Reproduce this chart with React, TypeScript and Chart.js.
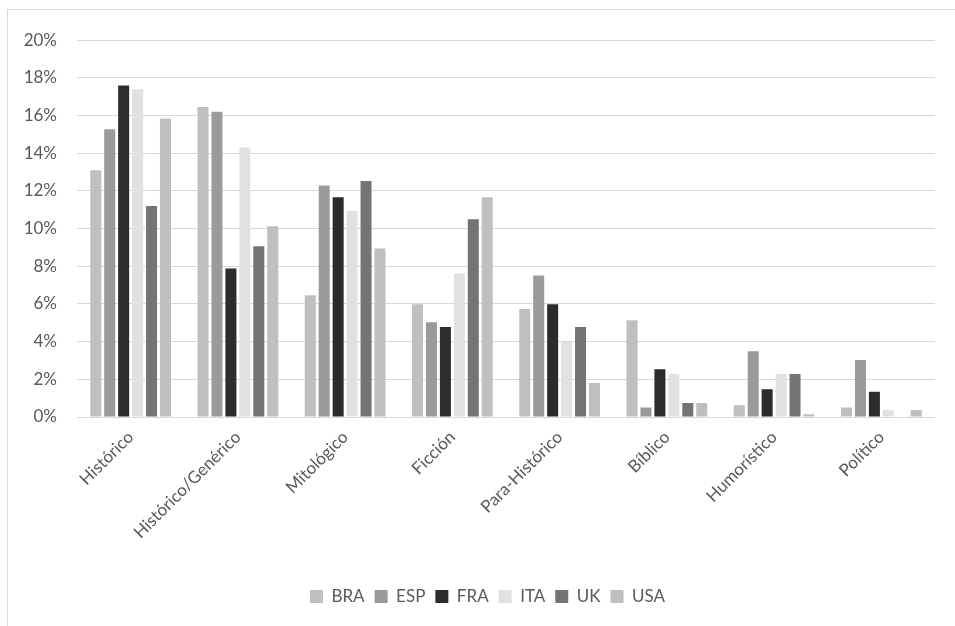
import React, { useEffect, useRef } from "react";
import { Chart, registerables } from "chart.js";

Chart.register(...registerables);

// Share of titles by genre for each country (percent)
const categories = [
  "Histórico",
  "Histórico/Genérico",
  "Mitológico",
  "Ficción",
  "Para-Histórico",
  "Bíblico",
  "Humorístico",
  "Político",
];

const BRA = [13.1, 16.45, 6.46, 5.98, 5.73, 5.13, 0.63, 0.51];
const ESP = [15.27, 16.2, 12.29, 5.03, 7.51, 0.51, 3.49, 3.02];
const FRA = [17.6, 7.88, 11.67, 4.78, 5.98, 2.54, 1.47, 1.34];
const ITA = [17.4, 14.3, 10.95, 7.62, 3.98, 2.28, 2.28, 0.37];
const UK = [11.2, 9.06, 12.52, 10.49, 4.78, 0.74, 2.28, 0];
const USA = [15.85, 10.12, 8.94, 11.67, 1.8, 0.74, 0.14, 0.37];

const yTicks = [0, 2, 4, 6, 8, 10, 12, 14, 16, 18, 20];

const seriesNames = ["BRA", "ESP", "FRA", "ITA", "UK", "USA"];
const seriesValues = [BRA, ESP, FRA, ITA, UK, USA];
const seriesColors = ["#BFBFBF", "#9A9A9A", "#2B2D2C", "#E0E2E1", "#737473", "#BFBFBF"];

const FONT = "Lato, 'Open Sans', sans-serif";
const TEXT = "#595959";
const GRID = "#D9D9D9";

// Nudges the legend a little to the right of the canvas centre
const legendShift = {
  id: "legendShift",
  afterLayout(chart: any) {
    if (chart.legend) {
      chart.legend.left += 16;
      chart.legend.right += 16;
    }
  },
};

export default function App() {
  const canvasRef = useRef<HTMLCanvasElement | null>(null);

  useEffect(() => {
    if (!canvasRef.current) return;
    const chart = new Chart(canvasRef.current, {
      type: "bar",
      data: {
        labels: categories,
        datasets: seriesNames.map((name, i) => ({
          label: name,
          data: seriesValues[i],
          backgroundColor: seriesColors[i],
          borderWidth: 0,
          categoryPercentage: 0.78,
          barPercentage: 0.79,
        })),
      },
      options: {
        animation: false,
        responsive: false,
        maintainAspectRatio: false,
        layout: { padding: { top: 29, right: 20, bottom: 11, left: 0 } },
        plugins: {
          tooltip: { enabled: false },
          legend: {
            position: "bottom",
            labels: {
              font: { family: FONT, size: 17 },
              color: TEXT,
              boxWidth: 13,
              boxHeight: 13,
              padding: 10,
            },
          },
        },
        scales: {
          x: {
            grid: { display: false, drawTicks: false },
            border: { display: false },
            ticks: {
              font: { family: FONT, size: 17 },
              color: TEXT,
              minRotation: 45,
              maxRotation: 45,
              padding: 10,
              autoSkip: false,
            },
            afterFit: (scale: any) => {
              scale.height = 161;
            },
          },
          y: {
            min: 0,
            max: 20,
            afterBuildTicks: (scale: any) => {
              scale.ticks = yTicks.map((v) => ({ value: v }));
            },
            grid: { color: GRID, lineWidth: 1, drawTicks: false },
            border: { display: false },
            ticks: {
              font: { family: FONT, size: 17 },
              color: TEXT,
              padding: 20,
              callback: (v: any) => `${v}%`,
            },
            afterFit: (scale: any) => {
              scale.width = 69;
            },
          },
        },
      },
      plugins: [legendShift],
    });
    return () => chart.destroy();
  }, []);

  return (
    <div
      style={{
        position: "fixed",
        left: 7,
        top: 9,
        width: 980,
        height: 660,
        border: `1px solid ${GRID}`,
        background: "#fff",
      }}
    >
      <canvas ref={canvasRef} width={947} height={616} style={{ display: "block" }} />
    </div>
  );
}
